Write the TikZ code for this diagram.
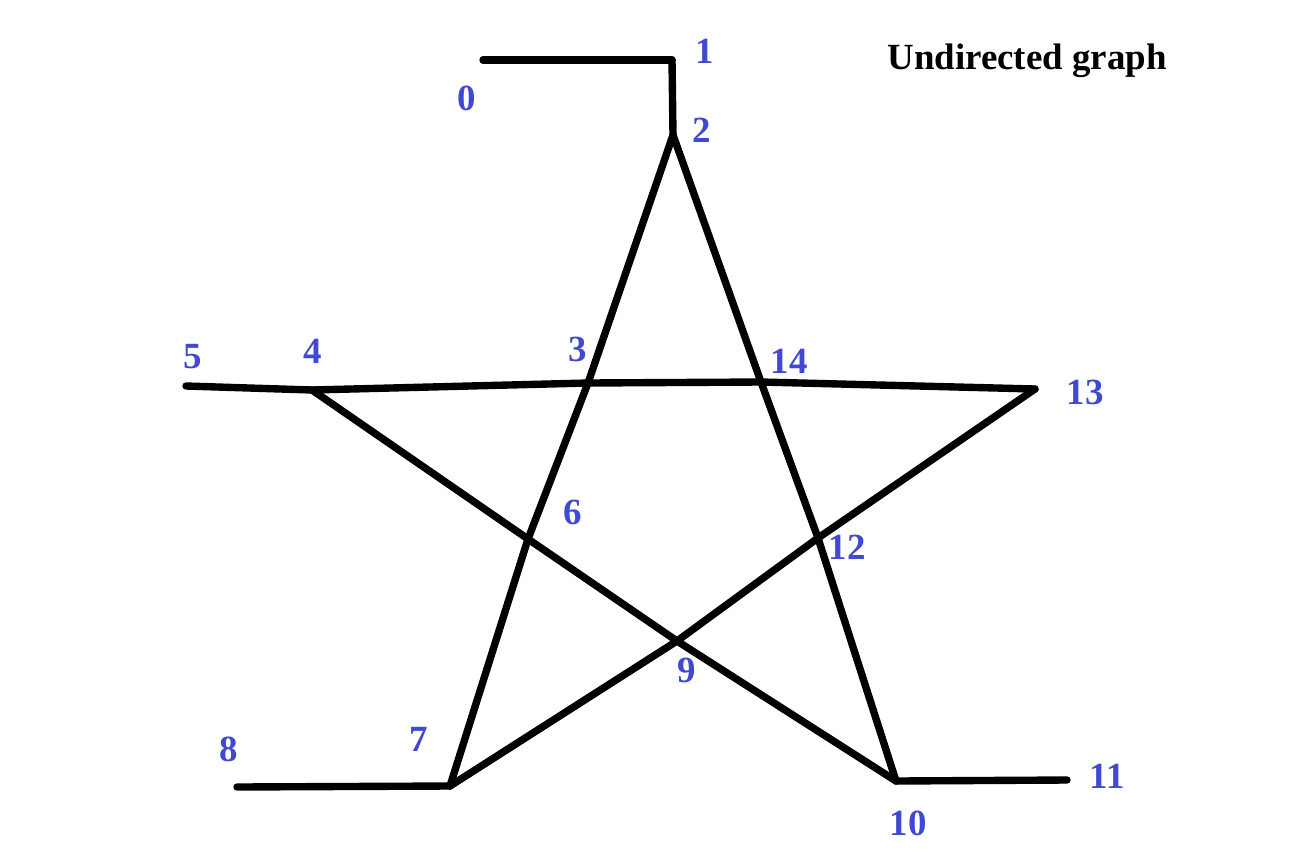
\documentclass[tikz,border=0pt]{standalone}
\usepackage{fontspec}
\setmainfont{Liberation Serif}
\usepackage{tikz}
\usepackage{xcolor}
\definecolor{lblblue}{RGB}{65,72,210}

\begin{document}
\begin{tikzpicture}[x=0.02cm,y=-0.02cm,line width=4.2pt,line cap=round,line join=round,
   lbl/.style={text=lblblue,font=\fontsize{21}{24}\selectfont\bfseries,inner sep=0pt}]
   \useasboundingbox (0,0) rectangle (1295,853);
   % vertices
   \coordinate (v0)  at (483,60);
   \coordinate (v1)  at (672,60);
   \coordinate (v2)  at (673,135);
   \coordinate (v3)  at (588,383);
   \coordinate (v4)  at (312,390);
   \coordinate (v5)  at (186,386);
   \coordinate (v6)  at (528,539);
   \coordinate (v7)  at (450,786);
   \coordinate (v8)  at (237,787);
   \coordinate (v9)  at (677,641);
   \coordinate (v10) at (896,781);
   \coordinate (v11) at (1067,780);
   \coordinate (v12) at (818,538);
   \coordinate (v13) at (1035,389);
   \coordinate (v14) at (761,382);
   % labels
   \node[lbl] (l0)  at (467,98)   {0};
   \node[lbl] (l1)  at (705,51)   {1};
   \node[lbl] (l2)  at (702,130)  {2};
   \node[lbl] (l3)  at (578,349)  {3};
   \node[lbl] (l4)  at (313,351)  {4};
   \node[lbl] (l5)  at (193,357)  {5};
   \node[lbl] (l6)  at (573,512)  {6};
   \node[lbl] (l7)  at (419,739)  {7};
   \node[lbl] (l8)  at (229,749)  {8};
   \node[lbl] (l9)  at (687,670)  {9};
   \node[lbl] (l10) at (908,823)  {10};
   \node[lbl] (l11) at (1107,776) {11};
   \node[lbl] (l12) at (847,547)  {12};
   \node[lbl] (l13) at (1085,392) {13};
   \node[lbl] (l14) at (789,361)  {14};
   \node[font=\fontsize{21}{24}\selectfont\bfseries,inner sep=0pt] (title) at (1027,61) {Undirected graph};
   % edges
   \path[draw]
   (v0)  edge (v1)
   (v1)  edge (v2)
   (v2)  edge (v3)
         edge (v14)
   (v3)  edge (v6)
         edge (v14)
   (v4)  edge (v3)
         edge (v5)
         edge (v6)
   (v6)  edge (v7)
         edge (v9)
   (v7)  edge (v8)
         edge (v9)
   (v9)  edge (v10)
         edge (v12)
   (v10) edge (v11)
   (v12) edge (v10)
         edge (v13)
         edge (v14)
   (v14) edge (v13);
\end{tikzpicture}
\end{document}
